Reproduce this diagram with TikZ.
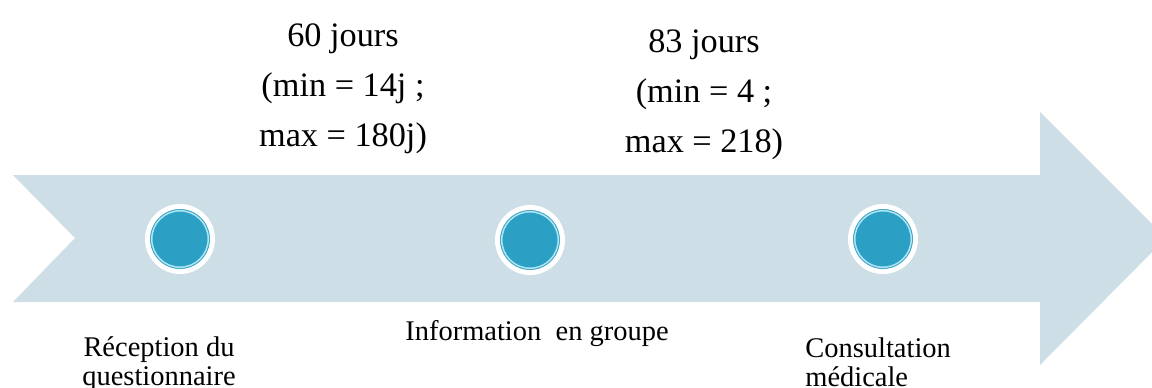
\documentclass[tikz,border=0pt]{standalone}
\usepackage{fontspec}
\setmainfont{Liberation Serif}
\usetikzlibrary{positioning}
\definecolor{arrowfill}{RGB}{205,222,230}
\definecolor{dotblue}{RGB}{44,160,196}
\definecolor{dotring}{RGB}{175,228,240}
\tikzset{
  stepdot/.style  = {circle,minimum size=13mm,inner sep=0pt,fill=dotblue,
                     draw=white,line width=1mm,
                     path picture={\draw[dotring,line width=0.3mm]
                       (path picture bounding box.center) circle (5.65mm);}},
  delaylbl/.style = {align=center,inner sep=0pt,
                     font=\fontsize{19.5}{28.5}\selectfont},
  steplbl/.style  = {inner sep=0pt,font=\fontsize{16.2}{16.5}\selectfont}
}
\begin{document}
\begin{tikzpicture}[x=0.2mm,y=-0.2mm]
  \clip (0,0) rectangle (1152,387);
  \fill[white] (0,0) rectangle (1152,387);
  % timeline arrow
  \fill[arrowfill] (13,175) -- (1040,175) -- (1040,112) -- (1166,238)
    -- (1040,365) -- (1040,302) -- (13,302) -- (75,238) -- cycle;
  % steps
  \node[stepdot] (recep)   at (180,239) {};
  \node[stepdot] (info)    at (530,240) {};
  \node[stepdot] (consult) at (883,239) {};
  \node[steplbl,align=center,anchor=north] (recep lbl) at (159,336)
    {Réception du\\questionnaire};
  \node[steplbl,anchor=north] (info lbl) at (537,320)
    {Information\ \ en groupe};
  \node[steplbl,align=left,anchor=north west] (consult lbl) at (805,337)
    {Consultation\\médicale};
  % delays
  \node[delaylbl,anchor=north] (delay one) at (343,23)
    {60 jours\\(min = 14j ;\\max = 180j)};
  \node[delaylbl,anchor=north] (delay two) at (704,29)
    {83 jours\\(min = 4 ;\\max = 218)};
\end{tikzpicture}
\end{document}
